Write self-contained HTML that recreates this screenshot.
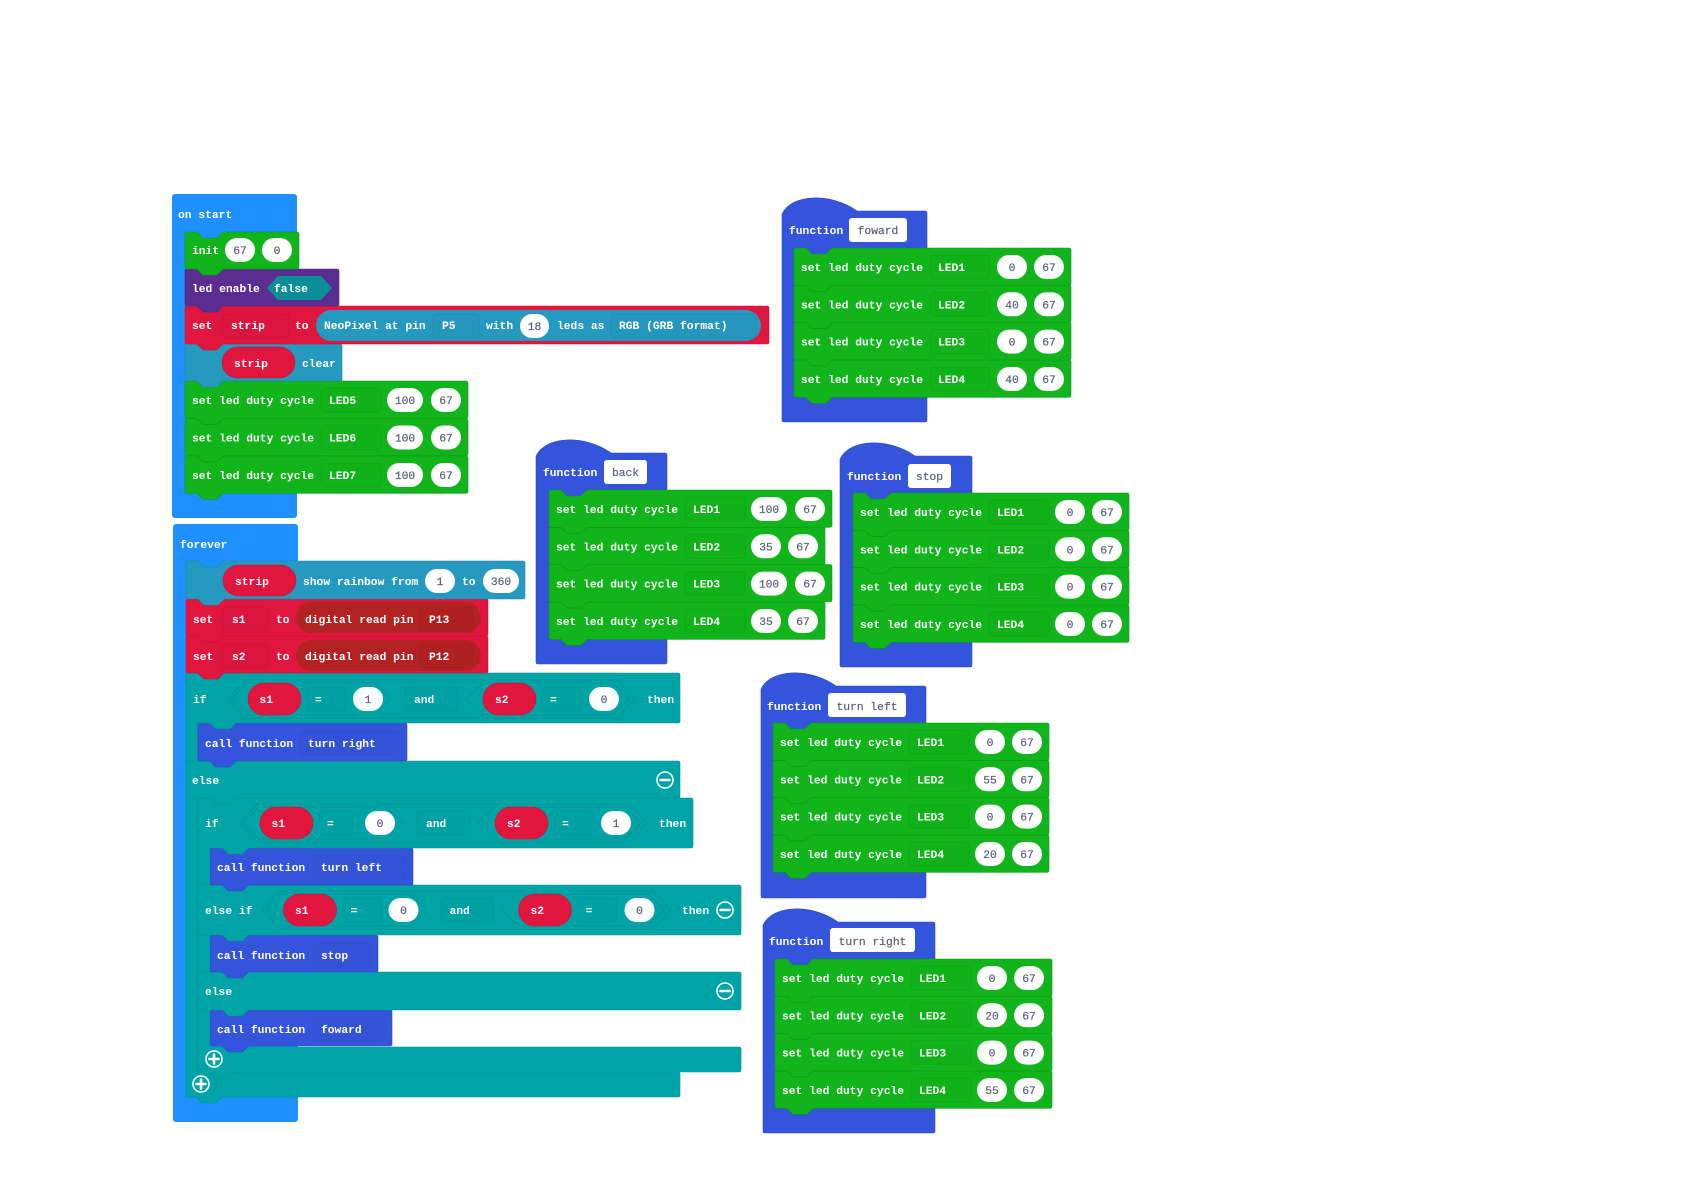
<!DOCTYPE html>
<html><head><meta charset="utf-8"><title>Blocks</title>
<style>
html,body{margin:0;padding:0;background:#fff}
svg{display:block;position:absolute;left:0;top:0}
text{font-family:"Liberation Mono",monospace;font-size:11.3px;white-space:pre}
.w{fill:#fff;font-weight:700}
.v{fill:#575E75;text-anchor:middle;font-weight:400;stroke:#575E75;stroke-width:.2}
.g{fill:#11B41A;stroke:#0b9c14;stroke-width:.6}
.t{fill:#00A4A6;stroke:#009396;stroke-width:.6}
.c{fill:#3455DB;stroke:#2c49c0;stroke-width:.6}
.r{fill:#E0163F;stroke:#c91238;stroke-width:.6}
.n{fill:#2699BF;stroke:#2288aa;stroke-width:.6}
.f{fill:rgba(0,0,0,.015);stroke:rgba(0,0,0,.07);stroke-width:.8}
.p{fill:#fff}
.k{fill:#E0163F;stroke:#c91238;stroke-width:.6}
.h{fill:none;stroke:rgba(0,0,0,.07);stroke-width:1}
.i{fill:none;stroke:#fff;stroke-width:1.6}
.l{stroke:#fff;stroke-width:2.6;stroke-linecap:round}
</style></head><body>
<svg width="1684" height="1191" viewBox="0 0 1684 1191" xmlns="http://www.w3.org/2000/svg">
<rect width="1684" height="1191" fill="#fff"/>

<!-- on start -->
<rect x="172" y="194" width="125" height="324" rx="3" fill="#1E90FF"/>
<text class="w" x="178" y="218">on start</text>

<g transform="translate(185 456)"><path class="g" d="M0 2q0-2 2-2h10l6 6h14l6-6h243q2 0 2 2v33.3q0 2-2 2h-243l-6 6h-14l-6-6h-10q-2 0-2-2z"/><rect class="f" x="136" y="7" width="60" height="24" rx="4"/><text class="w" x="7" y="23">set led duty cycle</text><text class="w" x="144" y="23">LED7</text><rect class="p" x="202" y="7" width="36" height="24" rx="12"/><text class="v" x="220" y="23">100</text><rect class="p" x="246" y="7" width="30" height="24" rx="12"/><text class="v" x="261" y="23">67</text></g>
<g transform="translate(185 418.5)"><path class="g" d="M0 2q0-2 2-2h10l6 6h14l6-6h243q2 0 2 2v33.3q0 2-2 2h-243l-6 6h-14l-6-6h-10q-2 0-2-2z"/><rect class="f" x="136" y="7" width="60" height="24" rx="4"/><text class="w" x="7" y="23">set led duty cycle</text><text class="w" x="144" y="23">LED6</text><rect class="p" x="202" y="7" width="36" height="24" rx="12"/><text class="v" x="220" y="23">100</text><rect class="p" x="246" y="7" width="30" height="24" rx="12"/><text class="v" x="261" y="23">67</text></g>
<g transform="translate(185 381)"><path class="g" d="M0 2q0-2 2-2h10l6 6h14l6-6h243q2 0 2 2v33.3q0 2-2 2h-243l-6 6h-14l-6-6h-10q-2 0-2-2z"/><rect class="f" x="136" y="7" width="60" height="24" rx="4"/><text class="w" x="7" y="23">set led duty cycle</text><text class="w" x="144" y="23">LED5</text><rect class="p" x="202" y="7" width="36" height="24" rx="12"/><text class="v" x="220" y="23">100</text><rect class="p" x="246" y="7" width="30" height="24" rx="12"/><text class="v" x="261" y="23">67</text></g>

<!-- strip clear -->
<path class="n" d="M185 346q0-2 2-2h10l6 6h14l6-6h117q2 0 2 2v33q0 2-2 2h-117l-6 6h-14l-6-6h-10q-2 0-2-2z"/>
<rect x="222" y="347" width="73" height="31" rx="15.5" class="k"/>
<text class="w" x="234" y="367">strip</text>
<text class="w" x="302" y="367">clear</text>

<!-- set strip -->
<path class="r" d="M185 308q0-2 2-2h10l6 6h14l6-6h544q2 0 2 2v34q0 2-2 2h-544l-6 6h-14l-6-6h-10q-2 0-2-2z"/>
<rect class="f" x="222" y="314" width="67" height="24" rx="4"/>
<rect x="316" y="310" width="445" height="31" rx="15.5" fill="#2699BF"/>
<rect class="f" x="433" y="314" width="46" height="24" rx="4"/>
<rect class="f" x="611" y="314" width="145" height="24" rx="4"/>
<rect class="p" x="520" y="314" width="29" height="24" rx="12"/>
<text class="w" x="192" y="329">set</text>
<text class="w" x="231" y="329">strip</text>
<text class="w" x="295" y="329">to</text>
<text class="w" x="324" y="329">NeoPixel at pin</text>
<text class="w" x="442" y="329">P5</text>
<text class="w" x="486" y="329">with</text>
<text class="v" x="534.5" y="330">18</text>
<text class="w" x="557" y="329">leds as</text>
<text class="w" x="619" y="329">RGB (GRB format)</text>

<!-- led enable -->
<path d="M185 271q0-2 2-2h10l6 6h14l6-6h114q2 0 2 2v33q0 2-2 2h-114l-6 6h-14l-6-6h-10q-2 0-2-2z" fill="#5C2D91" stroke="#4e2680" stroke-width=".6"/>
<polygon points="267,288 278,276 321,276 332,288 321,300 278,300" fill="#0B8E98"/>
<text class="w" x="192" y="292">led enable</text>
<text class="w" x="274" y="292">false</text>

<!-- init -->
<path class="g" d="M185 234q0-2 2-2h10l6 6h14l6-6h74q2 0 2 2v33q0 2-2 2h-74l-6 6h-14l-6-6h-10q-2 0-2-2z"/>
<text class="w" x="192" y="254">init</text>
<rect class="p" x="225" y="238" width="30" height="24" rx="12"/><text class="v" x="240" y="254">67</text>
<rect class="p" x="262" y="238" width="30" height="24" rx="12"/><text class="v" x="277" y="254">0</text>

<!-- forever -->
<rect x="173" y="524" width="125" height="598" rx="3" fill="#1E90FF"/>
<text class="w" x="180" y="548">forever</text>

<!-- outer if body: column + bottom bar -->
<path class="t" d="M186 673H198V1072H678q2 0 2 2v21q0 2-2 2H222l-6 6h-14l-6-6h-8q-2 0-2-2z"/>
<circle class="i" cx="201" cy="1084" r="8"/><line class="l" x1="196.5" y1="1084" x2="205.5" y2="1084"/><line class="l" x1="201" y1="1079.5" x2="201" y2="1088.5"/>

<!-- inner if body -->
<path class="t" d="M198 798H210V1047H739q2 0 2 2v21q0 2-2 2H234l-6 6h-14l-6-6h-8q-2 0-2-2z"/>
<circle class="i" cx="214" cy="1059" r="8"/><line class="l" x1="209.5" y1="1059" x2="218.5" y2="1059"/><line class="l" x1="214" y1="1054.5" x2="214" y2="1063.5"/>

<!-- call foward -->
<path class="c" d="M210.5 1012q0-2 2-2h10l6 6h14l6-6h141.500q2 0 2 2v32q0 2-2 2h-141.500l-6 6h-14l-6-6h-10q-2 0-2-2z"/>
<rect class="f" x="313" y="1017" width="73" height="24" rx="4"/>
<text class="w" x="217" y="1033">call function</text><text class="w" x="321" y="1033">foward</text>

<!-- else 2 -->
<path class="t" d="M198 972H739q2 0 2 2v34q0 2-2 2H248.500l-6 6h-14l-6-6H198z"/>
<text class="w" x="205" y="995">else</text>
<circle class="i" cx="725" cy="991" r="8"/><line class="l" x1="720.5" y1="991" x2="729.5" y2="991"/>

<!-- call stop -->
<path class="c" d="M210.5 937q0-2 2-2h10l6 6h14l6-6h127.500q2 0 2 2v33q0 2-2 2h-127.500l-6 6h-14l-6-6h-10q-2 0-2-2z"/>
<rect class="f" x="313" y="943" width="58" height="24" rx="4"/>
<text class="w" x="217" y="959">call function</text><text class="w" x="321" y="959">stop</text>

<!-- else if -->
<path class="t" d="M198 885H739q2 0 2 2v46q0 2-2 2H248.500l-6 6h-14l-6-6H198z"/>
<text class="w" x="205" y="914">else if</text>
<g transform="translate(35.5 910)">
<polygon class="h" points="227,0 245,-19 617,-19 635,0 617,19 245,19"/>
<polygon class="h" points="231,0 247,-16 375,-16 391,0 375,16 247,16"/>
<polygon class="h" points="466,0 482,-16 613,-16 629,0 613,16 482,16"/>
<rect class="k" x="248" y="-16" width="53" height="32" rx="16"/><text class="w" x="259.500" y="4">s1</text>
<rect class="f" x="307" y="-12" width="39" height="24" rx="4"/><text class="w" x="315" y="4">=</text>
<rect class="p" x="353" y="-12" width="30" height="24" rx="12"/><text class="v" x="368" y="4">0</text>
<rect class="f" x="405" y="-12" width="53" height="24" rx="4"/><text class="w" x="414" y="4">and</text>
<rect class="k" x="483" y="-16" width="53" height="32" rx="16"/><text class="w" x="495" y="4">s2</text>
<rect class="f" x="542" y="-12" width="39" height="24" rx="4"/><text class="w" x="550" y="4">=</text>
<rect class="p" x="589" y="-12" width="30" height="24" rx="12"/><text class="v" x="604" y="4">0</text>
</g>
<text class="w" x="682" y="914">then</text>
<circle class="i" cx="725" cy="910" r="8"/><line class="l" x1="720.5" y1="910" x2="729.5" y2="910"/>

<!-- call turn left -->
<path class="c" d="M210.5 850q0-2 2-2h10l6 6h14l6-6h162.500q2 0 2 2v33q0 2-2 2h-162.500l-6 6h-14l-6-6h-10q-2 0-2-2z"/>
<rect class="f" x="313" y="855" width="93" height="24" rx="4"/>
<text class="w" x="217" y="871">call function</text><text class="w" x="321" y="871">turn left</text>

<!-- inner if head -->
<path class="t" d="M198 800q0-2 2-2h10l6 6h14l6-6h455q2 0 2 2v46q0 2-2 2H248.500l-6 6h-14l-6-6H198z"/>
<text class="w" x="205" y="827">if</text>
<g transform="translate(12 823)">
<polygon class="h" points="227,0 245,-19 617,-19 635,0 617,19 245,19"/>
<polygon class="h" points="231,0 247,-16 375,-16 391,0 375,16 247,16"/>
<polygon class="h" points="466,0 482,-16 613,-16 629,0 613,16 482,16"/>
<rect class="k" x="248" y="-16" width="53" height="32" rx="16"/><text class="w" x="259.500" y="4">s1</text>
<rect class="f" x="307" y="-12" width="39" height="24" rx="4"/><text class="w" x="315" y="4">=</text>
<rect class="p" x="353" y="-12" width="30" height="24" rx="12"/><text class="v" x="368" y="4">0</text>
<rect class="f" x="405" y="-12" width="53" height="24" rx="4"/><text class="w" x="414" y="4">and</text>
<rect class="k" x="483" y="-16" width="53" height="32" rx="16"/><text class="w" x="495" y="4">s2</text>
<rect class="f" x="542" y="-12" width="39" height="24" rx="4"/><text class="w" x="550" y="4">=</text>
<rect class="p" x="589" y="-12" width="30" height="24" rx="12"/><text class="v" x="604" y="4">1</text>
</g>
<text class="w" x="659" y="827">then</text>

<!-- else 1 -->
<path class="t" d="M186 761H678q2 0 2 2v33q0 2-2 2H236l-6 6h-14l-6-6H186z"/>
<text class="w" x="192" y="784">else</text>
<circle class="i" cx="665" cy="780" r="8"/><line class="l" x1="660.5" y1="780" x2="669.5" y2="780"/>

<!-- call turn right -->
<path class="c" d="M198 725q0-2 2-2h10l6 6h14l6-6h169q2 0 2 2v34q0 2-2 2h-169l-6 6h-14l-6-6h-10q-2 0-2-2z"/>
<rect class="f" x="300" y="731" width="100" height="24" rx="4"/>
<text class="w" x="205" y="747">call function</text><text class="w" x="308" y="747">turn right</text>

<!-- outer if head -->
<path class="t" d="M186 675q0-2 2-2h10l6 6h14l6-6h454q2 0 2 2v46q0 2-2 2H236l-6 6h-14l-6-6H186z"/>
<text class="w" x="193" y="703">if</text>
<g transform="translate(0 699)">
<polygon class="h" points="227,0 245,-19 617,-19 635,0 617,19 245,19"/>
<polygon class="h" points="231,0 247,-16 375,-16 391,0 375,16 247,16"/>
<polygon class="h" points="466,0 482,-16 613,-16 629,0 613,16 482,16"/>
<rect class="k" x="248" y="-16" width="53" height="32" rx="16"/><text class="w" x="259.500" y="4">s1</text>
<rect class="f" x="307" y="-12" width="39" height="24" rx="4"/><text class="w" x="315" y="4">=</text>
<rect class="p" x="353" y="-12" width="30" height="24" rx="12"/><text class="v" x="368" y="4">1</text>
<rect class="f" x="405" y="-12" width="53" height="24" rx="4"/><text class="w" x="414" y="4">and</text>
<rect class="k" x="483" y="-16" width="53" height="32" rx="16"/><text class="w" x="495" y="4">s2</text>
<rect class="f" x="542" y="-12" width="39" height="24" rx="4"/><text class="w" x="550" y="4">=</text>
<rect class="p" x="589" y="-12" width="30" height="24" rx="12"/><text class="v" x="604" y="4">0</text>
</g>
<text class="w" x="647" y="703">then</text>

<!-- set s2 -->
<path class="r" d="M186 638q0-2 2-2h10l6 6h14l6-6h262q2 0 2 2v33q0 2-2 2h-262l-6 6h-14l-6-6h-10q-2 0-2-2z"/>
<rect x="296" y="640" width="185" height="31" rx="15.5" fill="#B22222"/>
<rect class="f" x="222" y="644" width="47" height="24" rx="4"/>
<rect class="f" x="419" y="644" width="54" height="24" rx="4"/>
<text class="w" x="193" y="660">set</text><text class="w" x="232" y="660">s2</text><text class="w" x="276" y="660">to</text>
<text class="w" x="305" y="660">digital read pin</text><text class="w" x="429" y="660">P12</text>

<!-- set s1 -->
<path class="r" d="M186 601q0-2 2-2h10l6 6h14l6-6h262q2 0 2 2v33q0 2-2 2h-262l-6 6h-14l-6-6h-10q-2 0-2-2z"/>
<rect x="296" y="602" width="185" height="31" rx="15.5" fill="#B22222"/>
<rect class="f" x="222" y="607" width="47" height="24" rx="4"/>
<rect class="f" x="419" y="607" width="54" height="24" rx="4"/>
<text class="w" x="193" y="623">set</text><text class="w" x="232" y="623">s1</text><text class="w" x="276" y="623">to</text>
<text class="w" x="305" y="623">digital read pin</text><text class="w" x="429" y="623">P13</text>

<!-- rainbow -->
<path class="n" d="M186 563q0-2 2-2h10l6 6h14l6-6h299q2 0 2 2v34q0 2-2 2h-299l-6 6h-14l-6-6h-10q-2 0-2-2z"/>
<rect x="223" y="565" width="73" height="31" rx="15.5" class="k"/>
<text class="w" x="235" y="585">strip</text>
<text class="w" x="303" y="585">show rainbow from</text>
<rect class="p" x="425" y="569" width="30" height="24" rx="12"/><text class="v" x="440" y="585">1</text>
<text class="w" x="462" y="585">to</text>
<rect class="p" x="483" y="569" width="36" height="24" rx="12"/><text class="v" x="501" y="585">360</text>

<!-- function foward -->
<path class="c" d="M782 214C792 193 832 193 857 211H925q2 0 2 2V420q0 2-2 2H784q-2 0-2-2z"/>
<text class="w" x="789" y="234">function</text>
<rect class="p" x="849" y="218" width="58" height="24" rx="3"/><text class="v" x="878" y="234">foward</text>
<g transform="translate(794 360)"><path class="g" d="M0 2q0-2 2-2h10l6 6h14l6-6h237q2 0 2 2v33.300q0 2-2 2h-237l-6 6h-14l-6-6h-10q-2 0-2-2z"/><rect class="f" x="136" y="7" width="60" height="24" rx="4"/><text class="w" x="7" y="23">set led duty cycle</text><text class="w" x="144" y="23">LED4</text><rect class="p" x="203" y="7" width="30" height="24" rx="12"/><text class="v" x="218" y="23">40</text><rect class="p" x="240" y="7" width="30" height="24" rx="12"/><text class="v" x="255" y="23">67</text></g>
<g transform="translate(794 322.600)"><path class="g" d="M0 2q0-2 2-2h10l6 6h14l6-6h237q2 0 2 2v33.300q0 2-2 2h-237l-6 6h-14l-6-6h-10q-2 0-2-2z"/><rect class="f" x="136" y="7" width="60" height="24" rx="4"/><text class="w" x="7" y="23">set led duty cycle</text><text class="w" x="144" y="23">LED3</text><rect class="p" x="203" y="7" width="30" height="24" rx="12"/><text class="v" x="218" y="23">0</text><rect class="p" x="240" y="7" width="30" height="24" rx="12"/><text class="v" x="255" y="23">67</text></g>
<g transform="translate(794 285.300)"><path class="g" d="M0 2q0-2 2-2h10l6 6h14l6-6h237q2 0 2 2v33.300q0 2-2 2h-237l-6 6h-14l-6-6h-10q-2 0-2-2z"/><rect class="f" x="136" y="7" width="60" height="24" rx="4"/><text class="w" x="7" y="23">set led duty cycle</text><text class="w" x="144" y="23">LED2</text><rect class="p" x="203" y="7" width="30" height="24" rx="12"/><text class="v" x="218" y="23">40</text><rect class="p" x="240" y="7" width="30" height="24" rx="12"/><text class="v" x="255" y="23">67</text></g>
<g transform="translate(794 248)"><path class="g" d="M0 2q0-2 2-2h10l6 6h14l6-6h237q2 0 2 2v33.300q0 2-2 2h-237l-6 6h-14l-6-6h-10q-2 0-2-2z"/><rect class="f" x="136" y="7" width="60" height="24" rx="4"/><text class="w" x="7" y="23">set led duty cycle</text><text class="w" x="144" y="23">LED1</text><rect class="p" x="203" y="7" width="30" height="24" rx="12"/><text class="v" x="218" y="23">0</text><rect class="p" x="240" y="7" width="30" height="24" rx="12"/><text class="v" x="255" y="23">67</text></g>

<!-- function back -->
<path class="c" d="M536 456C546 435 586 435 611 453H665q2 0 2 2V662q0 2-2 2H538q-2 0-2-2z"/>
<text class="w" x="543" y="476">function</text>
<rect class="p" x="604" y="460" width="43" height="24" rx="3"/><text class="v" x="625.500" y="476">back</text>
<g transform="translate(549 602)"><path class="g" d="M0 2q0-2 2-2h10l6 6h14l6-6h236q2 0 2 2v33.300q0 2-2 2h-236l-6 6h-14l-6-6h-10q-2 0-2-2z"/><rect class="f" x="136" y="7" width="60" height="24" rx="4"/><text class="w" x="7" y="23">set led duty cycle</text><text class="w" x="144" y="23">LED4</text><rect class="p" x="202" y="7" width="30" height="24" rx="12"/><text class="v" x="217" y="23">35</text><rect class="p" x="239" y="7" width="30" height="24" rx="12"/><text class="v" x="254" y="23">67</text></g>
<g transform="translate(549 564.600)"><path class="g" d="M0 2q0-2 2-2h10l6 6h14l6-6h243q2 0 2 2v33.300q0 2-2 2h-243l-6 6h-14l-6-6h-10q-2 0-2-2z"/><rect class="f" x="136" y="7" width="60" height="24" rx="4"/><text class="w" x="7" y="23">set led duty cycle</text><text class="w" x="144" y="23">LED3</text><rect class="p" x="202" y="7" width="36" height="24" rx="12"/><text class="v" x="220" y="23">100</text><rect class="p" x="246" y="7" width="30" height="24" rx="12"/><text class="v" x="261" y="23">67</text></g>
<g transform="translate(549 527.300)"><path class="g" d="M0 2q0-2 2-2h10l6 6h14l6-6h236q2 0 2 2v33.300q0 2-2 2h-236l-6 6h-14l-6-6h-10q-2 0-2-2z"/><rect class="f" x="136" y="7" width="60" height="24" rx="4"/><text class="w" x="7" y="23">set led duty cycle</text><text class="w" x="144" y="23">LED2</text><rect class="p" x="202" y="7" width="30" height="24" rx="12"/><text class="v" x="217" y="23">35</text><rect class="p" x="239" y="7" width="30" height="24" rx="12"/><text class="v" x="254" y="23">67</text></g>
<g transform="translate(549 490)"><path class="g" d="M0 2q0-2 2-2h10l6 6h14l6-6h243q2 0 2 2v33.300q0 2-2 2h-243l-6 6h-14l-6-6h-10q-2 0-2-2z"/><rect class="f" x="136" y="7" width="60" height="24" rx="4"/><text class="w" x="7" y="23">set led duty cycle</text><text class="w" x="144" y="23">LED1</text><rect class="p" x="202" y="7" width="36" height="24" rx="12"/><text class="v" x="220" y="23">100</text><rect class="p" x="246" y="7" width="30" height="24" rx="12"/><text class="v" x="261" y="23">67</text></g>

<!-- function stop -->
<path class="c" d="M840 459C850 438 890 438 915 456H970q2 0 2 2V665q0 2-2 2H842q-2 0-2-2z"/>
<text class="w" x="847" y="480">function</text>
<rect class="p" x="908" y="464" width="43" height="24" rx="3"/><text class="v" x="929.500" y="480">stop</text>
<g transform="translate(853 605)"><path class="g" d="M0 2q0-2 2-2h10l6 6h14l6-6h236q2 0 2 2v33.300q0 2-2 2h-236l-6 6h-14l-6-6h-10q-2 0-2-2z"/><rect class="f" x="136" y="7" width="60" height="24" rx="4"/><text class="w" x="7" y="23">set led duty cycle</text><text class="w" x="144" y="23">LED4</text><rect class="p" x="202" y="7" width="30" height="24" rx="12"/><text class="v" x="217" y="23">0</text><rect class="p" x="239" y="7" width="30" height="24" rx="12"/><text class="v" x="254" y="23">67</text></g>
<g transform="translate(853 567.600)"><path class="g" d="M0 2q0-2 2-2h10l6 6h14l6-6h236q2 0 2 2v33.300q0 2-2 2h-236l-6 6h-14l-6-6h-10q-2 0-2-2z"/><rect class="f" x="136" y="7" width="60" height="24" rx="4"/><text class="w" x="7" y="23">set led duty cycle</text><text class="w" x="144" y="23">LED3</text><rect class="p" x="202" y="7" width="30" height="24" rx="12"/><text class="v" x="217" y="23">0</text><rect class="p" x="239" y="7" width="30" height="24" rx="12"/><text class="v" x="254" y="23">67</text></g>
<g transform="translate(853 530.300)"><path class="g" d="M0 2q0-2 2-2h10l6 6h14l6-6h236q2 0 2 2v33.300q0 2-2 2h-236l-6 6h-14l-6-6h-10q-2 0-2-2z"/><rect class="f" x="136" y="7" width="60" height="24" rx="4"/><text class="w" x="7" y="23">set led duty cycle</text><text class="w" x="144" y="23">LED2</text><rect class="p" x="202" y="7" width="30" height="24" rx="12"/><text class="v" x="217" y="23">0</text><rect class="p" x="239" y="7" width="30" height="24" rx="12"/><text class="v" x="254" y="23">67</text></g>
<g transform="translate(853 493)"><path class="g" d="M0 2q0-2 2-2h10l6 6h14l6-6h236q2 0 2 2v33.300q0 2-2 2h-236l-6 6h-14l-6-6h-10q-2 0-2-2z"/><rect class="f" x="136" y="7" width="60" height="24" rx="4"/><text class="w" x="7" y="23">set led duty cycle</text><text class="w" x="144" y="23">LED1</text><rect class="p" x="202" y="7" width="30" height="24" rx="12"/><text class="v" x="217" y="23">0</text><rect class="p" x="239" y="7" width="30" height="24" rx="12"/><text class="v" x="254" y="23">67</text></g>

<!-- function turn left -->
<path class="c" d="M761 689C771 668 811 668 836 686H924q2 0 2 2V896q0 2-2 2H763q-2 0-2-2z"/>
<text class="w" x="767" y="710">function</text>
<rect class="p" x="828" y="693" width="78" height="24" rx="3"/><text class="v" x="867" y="710">turn left</text>
<g transform="translate(773 835)"><path class="g" d="M0 2q0-2 2-2h10l6 6h14l6-6h236q2 0 2 2v33.300q0 2-2 2h-236l-6 6h-14l-6-6h-10q-2 0-2-2z"/><rect class="f" x="136" y="7" width="60" height="24" rx="4"/><text class="w" x="7" y="23">set led duty cycle</text><text class="w" x="144" y="23">LED4</text><rect class="p" x="202" y="7" width="30" height="24" rx="12"/><text class="v" x="217" y="23">20</text><rect class="p" x="239" y="7" width="30" height="24" rx="12"/><text class="v" x="254" y="23">67</text></g>
<g transform="translate(773 797.600)"><path class="g" d="M0 2q0-2 2-2h10l6 6h14l6-6h236q2 0 2 2v33.300q0 2-2 2h-236l-6 6h-14l-6-6h-10q-2 0-2-2z"/><rect class="f" x="136" y="7" width="60" height="24" rx="4"/><text class="w" x="7" y="23">set led duty cycle</text><text class="w" x="144" y="23">LED3</text><rect class="p" x="202" y="7" width="30" height="24" rx="12"/><text class="v" x="217" y="23">0</text><rect class="p" x="239" y="7" width="30" height="24" rx="12"/><text class="v" x="254" y="23">67</text></g>
<g transform="translate(773 760.300)"><path class="g" d="M0 2q0-2 2-2h10l6 6h14l6-6h236q2 0 2 2v33.300q0 2-2 2h-236l-6 6h-14l-6-6h-10q-2 0-2-2z"/><rect class="f" x="136" y="7" width="60" height="24" rx="4"/><text class="w" x="7" y="23">set led duty cycle</text><text class="w" x="144" y="23">LED2</text><rect class="p" x="202" y="7" width="30" height="24" rx="12"/><text class="v" x="217" y="23">55</text><rect class="p" x="239" y="7" width="30" height="24" rx="12"/><text class="v" x="254" y="23">67</text></g>
<g transform="translate(773 723)"><path class="g" d="M0 2q0-2 2-2h10l6 6h14l6-6h236q2 0 2 2v33.300q0 2-2 2h-236l-6 6h-14l-6-6h-10q-2 0-2-2z"/><rect class="f" x="136" y="7" width="60" height="24" rx="4"/><text class="w" x="7" y="23">set led duty cycle</text><text class="w" x="144" y="23">LED1</text><rect class="p" x="202" y="7" width="30" height="24" rx="12"/><text class="v" x="217" y="23">0</text><rect class="p" x="239" y="7" width="30" height="24" rx="12"/><text class="v" x="254" y="23">67</text></g>

<!-- function turn right -->
<path class="c" d="M763 925C773 904 813 904 838 922H933q2 0 2 2V1131q0 2-2 2H765q-2 0-2-2z"/>
<text class="w" x="769" y="945">function</text>
<rect class="p" x="830" y="928" width="85" height="24" rx="3"/><text class="v" x="872.500" y="945">turn right</text>
<g transform="translate(775 1071)"><path class="g" d="M0 2q0-2 2-2h10l6 6h14l6-6h237q2 0 2 2v33.300q0 2-2 2h-237l-6 6h-14l-6-6h-10q-2 0-2-2z"/><rect class="f" x="136" y="7" width="60" height="24" rx="4"/><text class="w" x="7" y="23">set led duty cycle</text><text class="w" x="144" y="23">LED4</text><rect class="p" x="202" y="7" width="30" height="24" rx="12"/><text class="v" x="217" y="23">55</text><rect class="p" x="239" y="7" width="30" height="24" rx="12"/><text class="v" x="254" y="23">67</text></g>
<g transform="translate(775 1033.600)"><path class="g" d="M0 2q0-2 2-2h10l6 6h14l6-6h237q2 0 2 2v33.300q0 2-2 2h-237l-6 6h-14l-6-6h-10q-2 0-2-2z"/><rect class="f" x="136" y="7" width="60" height="24" rx="4"/><text class="w" x="7" y="23">set led duty cycle</text><text class="w" x="144" y="23">LED3</text><rect class="p" x="202" y="7" width="30" height="24" rx="12"/><text class="v" x="217" y="23">0</text><rect class="p" x="239" y="7" width="30" height="24" rx="12"/><text class="v" x="254" y="23">67</text></g>
<g transform="translate(775 996.300)"><path class="g" d="M0 2q0-2 2-2h10l6 6h14l6-6h237q2 0 2 2v33.300q0 2-2 2h-237l-6 6h-14l-6-6h-10q-2 0-2-2z"/><rect class="f" x="136" y="7" width="60" height="24" rx="4"/><text class="w" x="7" y="23">set led duty cycle</text><text class="w" x="144" y="23">LED2</text><rect class="p" x="202" y="7" width="30" height="24" rx="12"/><text class="v" x="217" y="23">20</text><rect class="p" x="239" y="7" width="30" height="24" rx="12"/><text class="v" x="254" y="23">67</text></g>
<g transform="translate(775 959)"><path class="g" d="M0 2q0-2 2-2h10l6 6h14l6-6h237q2 0 2 2v33.300q0 2-2 2h-237l-6 6h-14l-6-6h-10q-2 0-2-2z"/><rect class="f" x="136" y="7" width="60" height="24" rx="4"/><text class="w" x="7" y="23">set led duty cycle</text><text class="w" x="144" y="23">LED1</text><rect class="p" x="202" y="7" width="30" height="24" rx="12"/><text class="v" x="217" y="23">0</text><rect class="p" x="239" y="7" width="30" height="24" rx="12"/><text class="v" x="254" y="23">67</text></g>
</svg>
</body></html>
